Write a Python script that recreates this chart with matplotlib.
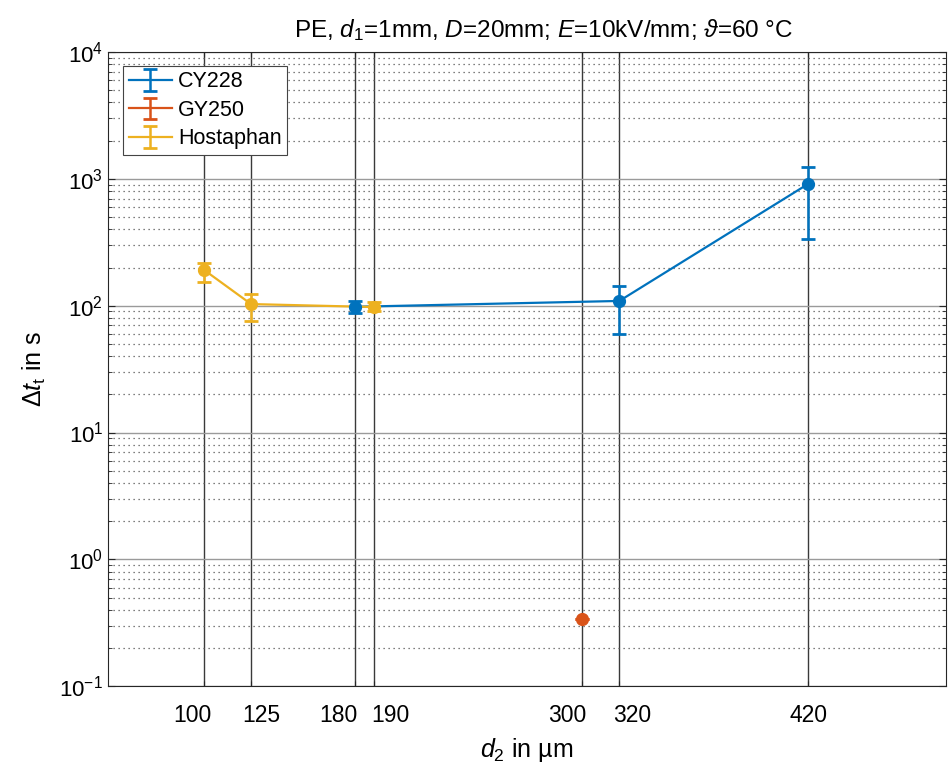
import numpy as np
import matplotlib
matplotlib.use("Agg")
import matplotlib.pyplot as plt
from matplotlib.ticker import LogLocator, NullFormatter
from matplotlib.transforms import ScaledTranslation

plt.rcParams['font.family'] = ['Liberation Sans', 'DejaVu Sans']
plt.rcParams['mathtext.fontset'] = 'custom'
plt.rcParams['mathtext.rm'] = 'Liberation Sans'
plt.rcParams['mathtext.it'] = 'Liberation Sans:italic'
plt.rcParams['mathtext.cal'] = 'DejaVu Serif:italic'

# data
cy_x = [180, 320, 420]
cy_y = [98, 109, 913]
cy_lo = [88, 60, 335]
cy_hi = [109, 142, 1236]

gy_x = [300]
gy_y = [0.34]

ho_x = [100, 125, 190]
ho_y = [192, 103, 97.6]
ho_lo = [154, 76, 90]
ho_hi = [217, 124, 107]

xticks = [100, 125, 180, 190, 300, 320, 420]
xshift = [-11, 10, -17, 17, -14, 13, 0]   # label nudges in px, as in the original

blue = '#0072BD'
red = '#D95319'
yellow = '#EDB120'

fig = plt.figure(figsize=(9.48, 7.65), dpi=100)
ax = fig.add_axes([0.114, 0.103, 0.884, 0.829])

ax.set_yscale('log')
ax.set_xlim(49.3, 493)
ax.set_ylim(1e-1, 1e4)

# grid first (behind data)
for xv in xticks:
    ax.axvline(xv, color='#3a3a3a', lw=1.0, zorder=0)
for e in range(-1, 5):
    ax.axhline(10.0 ** e, color='#9a9a9a', lw=1.0, zorder=0)
ax.yaxis.set_minor_locator(LogLocator(base=10, subs=np.arange(2, 10)))
ax.yaxis.set_minor_formatter(NullFormatter())
ax.grid(which='minor', axis='y', linestyle=(0, (1, 3)), color='#555555', lw=0.9, zorder=0)


def draw(x, y, lo, hi, c, name):
    y = np.array(y)
    err = np.array([y - np.array(lo), np.array(hi) - y])
    h = ax.errorbar(x, y, yerr=err, fmt='-', color=c, lw=1.6, elinewidth=1.8,
                    capsize=5, capthick=2, label=name, zorder=3)
    ax.plot(x, y, 'o', color=c, ms=8.5, zorder=4)
    return h


h1 = draw(cy_x, cy_y, cy_lo, cy_hi, blue, 'CY228')
h2 = draw(gy_x, gy_y, gy_y, gy_y, red, 'GY250')
h3 = draw(ho_x, ho_y, ho_lo, ho_hi, yellow, 'Hostaphan')

ax.set_xticks(xticks)
ax.set_xticklabels([str(v) for v in xticks])
ax.tick_params(axis='both', which='both', direction='in',
               top=True, right=True, color='#262626')
ax.tick_params(axis='x', pad=13, labelsize=16.5)
ax.tick_params(axis='y', labelsize=16)
ax.tick_params(axis='y', which='major', length=5)
ax.tick_params(axis='y', which='minor', length=3)
for lab, dx in zip(ax.get_xticklabels(), xshift):
    lab.set_transform(lab.get_transform() + ScaledTranslation(dx / 100, 0, fig.dpi_scale_trans))
for s in ax.spines.values():
    s.set_color('#262626')
    s.set_linewidth(0.8)

ax.set_title(r'PE, $d_1$=1mm, $D$=20mm; $E$=10kV/mm; $\vartheta$=60 °C',
             fontsize=17.5, pad=11, x=0.52)
ax.set_xlabel(r'$d_2$ in µm', fontsize=18, labelpad=6)
ax.set_ylabel(r'$\Delta t_\mathrm{t}$ in s', fontsize=18, labelpad=8)

leg = ax.legend(handles=[h1, h2, h3], loc='upper left', fontsize=15.5,
                fancybox=False, edgecolor='#444444', framealpha=1,
                borderpad=0.25, labelspacing=0.35, handlelength=2.0,
                handletextpad=0.3, borderaxespad=0,
                bbox_to_anchor=(0.018, 0.978))
leg.get_frame().set_linewidth(0.8)

fig.savefig('out.png', dpi=100)
